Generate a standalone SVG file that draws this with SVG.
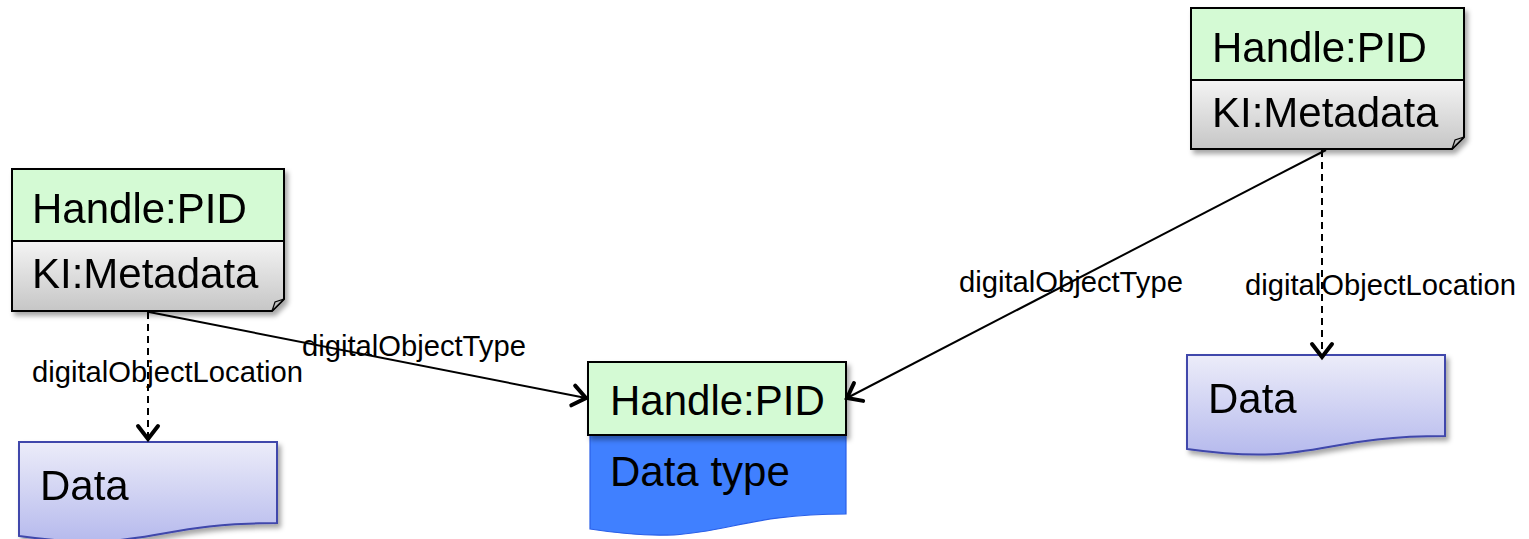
<svg xmlns="http://www.w3.org/2000/svg" width="1529" height="539" viewBox="0 0 1529 539">
<defs>
<linearGradient id="gMeta" x1="0" y1="0" x2="0" y2="1"><stop offset="0" stop-color="#f4f4f4"/><stop offset="1" stop-color="#c6c6c6"/></linearGradient>
<linearGradient id="gData" x1="0" y1="0" x2="0" y2="1"><stop offset="0" stop-color="#ececf9"/><stop offset="1" stop-color="#b6baed"/></linearGradient>
<filter id="sh" x="-10%" y="-10%" width="130%" height="140%"><feDropShadow dx="3" dy="4" stdDeviation="2.5" flood-color="#000" flood-opacity="0.35"/></filter>
<marker id="arr" markerUnits="userSpaceOnUse" viewBox="-18 -14 22 28" refX="0" refY="0" markerWidth="22" markerHeight="28" orient="auto">
<path d="M-13,-10 L0,0 L-13,10" fill="none" stroke="#000" stroke-width="4" stroke-linecap="round" stroke-linejoin="miter"/>
</marker>
<style>
.t{font-family:"Liberation Sans",Arial,sans-serif;fill:#000}
.big{font-size:42px}
.lbl{font-size:29.2px}
.hdr{fill:#d4fad4;stroke:#000;stroke-width:2}
.meta{fill:url(#gMeta);stroke:#000;stroke-width:2}
.doc{fill:url(#gData);stroke:#3f47ab;stroke-width:2}
.fold{fill:#bdbdbd;stroke:#000;stroke-width:1.2}
.ln{fill:none;stroke:#000;stroke-width:2}
.dash{stroke-dasharray:7,5}
</style>
</defs>

<g id="pid-left" filter="url(#sh)">
<path class="meta" d="M12,241 H284 V299 L272,311 H12 Z"/>
<path class="fold" d="M272,311 L275,302 L284,299 Z"/>
<rect class="hdr" x="12" y="169" width="272" height="72"/>
<text class="t big" x="32" y="223">Handle:PID</text>
<text class="t big" x="32" y="288">KI:Metadata</text>
</g>

<g id="pid-right" filter="url(#sh)">
<path class="meta" d="M1191,80 H1464 V137 L1452,149 H1191 Z"/>
<path class="fold" d="M1452,149 L1455,140 L1464,137 Z"/>
<rect class="hdr" x="1191" y="8" width="273" height="72"/>
<text class="t big" x="1212" y="62">Handle:PID</text>
<text class="t big" x="1212" y="127">KI:Metadata</text>
</g>

<g id="datatype">
<path d="M590,422 H846 V514 C718,514 718,549 590,529 Z" fill="#4080ff" stroke="#2a5fe8" stroke-width="1.2"/>
<rect class="hdr" x="588" y="362" width="258" height="73" filter="url(#sh)"/>
<text class="t big" x="610" y="415">Handle:PID</text>
<text class="t big" x="610" y="486">Data type</text>
</g>

<g id="data-left" filter="url(#sh)">
<path class="doc" d="M19,442 H277 V523 C148,523 148,554 19,536 Z"/>
<text class="t big" x="40" y="500">Data</text>
</g>

<g id="data-right" filter="url(#sh)">
<path class="doc" d="M1187,355 H1445 V436 C1316,436 1316,467 1187,449 Z"/>
<text class="t big" x="1208" y="413">Data</text>
</g>

<g id="connectors">
<line class="ln dash" x1="148" y1="312" x2="148" y2="439" marker-end="url(#arr)"/>
<line class="ln" x1="149" y1="312" x2="586" y2="398" marker-end="url(#arr)"/>
<line class="ln" x1="1326" y1="150" x2="847" y2="398" marker-end="url(#arr)"/>
<line class="ln dash" x1="1322" y1="150" x2="1322" y2="357" marker-end="url(#arr)"/>
<text class="t lbl" x="32" y="382">digitalObjectLocation</text>
<text class="t lbl" x="302" y="356">digitalObjectType</text>
<text class="t lbl" x="959" y="292">digitalObjectType</text>
<text class="t lbl" x="1245" y="295">digitalObjectLocation</text>
</g>
</svg>
